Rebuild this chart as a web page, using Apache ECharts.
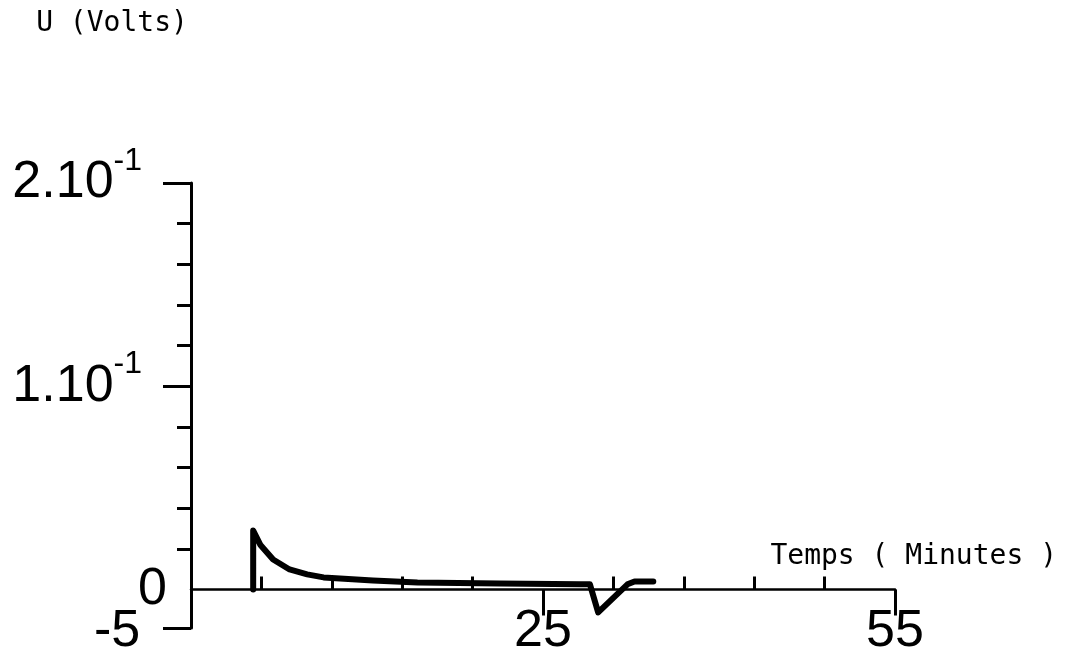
<!DOCTYPE html>
<html>
<head>
<meta charset="utf-8">
<script src="https://cdn.jsdelivr.net/npm/echarts@6/dist/echarts.min.js"></script>
<style>
  html, body { margin: 0; background: #fff; }
  #chart { width: 1066px; height: 670px; }
</style>
</head>
<body>
<div id="chart"></div>
<script>
// Recorded tension against time
const timeMin = [0.3, 0.3, 0.9, 2.0, 3.4, 4.9, 6.3, 7.7, 10.5, 14.3, 21.3, 28.2, 29.0, 29.7, 32.2, 32.8, 34.4];
const voltage = [0, 0.029, 0.022, 0.0147, 0.0098, 0.0074, 0.0059, 0.0054, 0.0044, 0.0034, 0.0029, 0.0025, 0.0025, -0.0113, 0.0025, 0.0039, 0.0039];

// axis ticks and labels
const xLabelValues = [-5, 25, 55];
const xMajorTicks = [25, 55];
const xMinorTicks = [1, 7, 13, 19, 31, 37, 43, 49];
const yMajorTicks = [-0.019, 0.1, 0.2];
const yMinorTicks = [0.02, 0.04, 0.06, 0.08, 0.12, 0.14, 0.16, 0.18];
const yLabelValues = [0, 0.1, 0.2];
const yLabelTexts = ['0', '1.10', '2.10'];
const yLabelExps = ['', '-1', '-1'];

const digitFont = '"Liberation Sans Narrow", "Liberation Sans", sans-serif';
const monoFont = '"DejaVu Sans Mono", monospace';

let chart = echarts.init(document.getElementById('chart'), null, { renderer: 'canvas' });

function yLabel(v) {
  const i = yLabelValues.findIndex(x => Math.abs(x - v) < 1e-6);
  if (i < 0) return '';
  if (yLabelExps[i]) return '{n|' + yLabelTexts[i] + '}{s|' + yLabelExps[i] + '}';
  return '{z|' + yLabelTexts[i] + '}';
}

// the first time label sits at the lower left corner, away from its tick
function xLabel(v) {
  return v === xLabelValues[0] ? '{c|' + v + '}' : '{t|' + v + '}';
}

chart.setOption({
  animation: false,
  backgroundColor: '#fff',
  title: {
    text: 'Temps ( Minutes )',
    right: 9,
    top: 543,
    padding: 0,
    textStyle: { fontFamily: monoFont, fontSize: 28, fontWeight: 'normal', color: '#000' }
  },
  grid: { left: 191, right: 171, top: 183, bottom: 42, containLabel: false, outerBoundsMode: 'none' },
  xAxis: [
    {
      type: 'value',
      min: -5,
      max: 55,
      axisLine: { onZero: true, onZeroAxisIndex: 0, lineStyle: { color: '#000', width: 2.5 } },
      axisTick: { customValues: xMajorTicks, length: 26, lineStyle: { color: '#000', width: 3 } },
      axisLabel: {
        customValues: xLabelValues, margin: -22, hideOverlap: false,
        showMinLabel: true, showMaxLabel: true,
        formatter: xLabel,
        rich: {
          t: { fontFamily: digitFont, fontSize: 52, color: '#000' },
          c: { fontFamily: digitFont, fontSize: 52, color: '#000', padding: [0, 148, 0, 0] }
        }
      },
      splitLine: { show: false }
    },
    {
      type: 'value',
      min: -5,
      max: 55,
      axisLine: { show: false, onZero: true, onZeroAxisIndex: 0 },
      axisTick: { customValues: xMinorTicks, length: 13, lineStyle: { color: '#000', width: 3 } },
      axisLabel: { show: false },
      splitLine: { show: false }
    }
  ],
  yAxis: [
    {
      type: 'value',
      min: -0.019,
      max: 0.2,
      position: 'left',
      name: 'U (Volts)',
      nameLocation: 'end',
      nameGap: 159,
      nameTextStyle: {
        fontFamily: monoFont, fontSize: 28, color: '#000',
        align: 'center', verticalAlign: 'middle', padding: [0, 158, 0, 0]
      },
      axisLine: { onZero: false, lineStyle: { color: '#000', width: 3 } },
      axisTick: { customValues: yMajorTicks, length: 28, lineStyle: { color: '#000', width: 3 } },
      axisLabel: {
        customValues: yLabelValues,
        showMinLabel: true,
        showMaxLabel: true,
        hideOverlap: false,
        margin: 24,
        formatter: yLabel,
        rich: {
          n: { fontFamily: digitFont, fontSize: 52, color: '#000', lineHeight: 76 },
          s: { fontFamily: digitFont, fontSize: 32, color: '#000', lineHeight: 32, verticalAlign: 'top', padding: [0, 25, 0, 0] },
          z: { fontFamily: digitFont, fontSize: 52, color: '#000' }
        }
      },
      splitLine: { show: false }
    },
    {
      type: 'value',
      min: -0.019,
      max: 0.2,
      position: 'left',
      axisLine: { show: false, onZero: false },
      axisTick: { customValues: yMinorTicks, length: 14, lineStyle: { color: '#000', width: 3 } },
      axisLabel: { show: false },
      splitLine: { show: false }
    }
  ],
  series: [
    {
      type: 'line',
      xAxisIndex: 0,
      yAxisIndex: 0,
      data: timeMin.map((t, i) => [t, voltage[i]]),
      showSymbol: false,
      lineStyle: { color: '#000', width: 6, join: 'round', cap: 'round' }
    }
  ]
});
</script>
</body>
</html>
